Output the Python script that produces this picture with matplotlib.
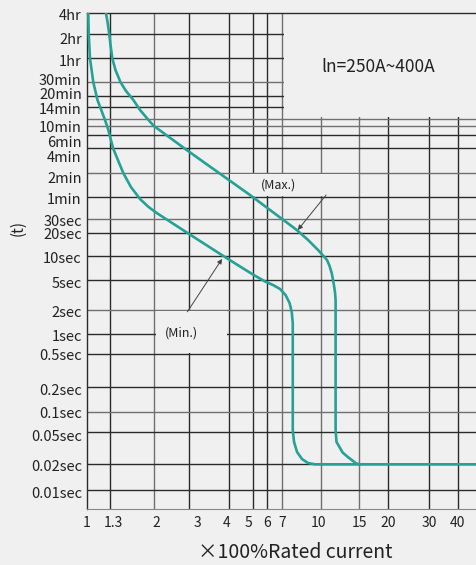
import numpy as np
import matplotlib
matplotlib.use("Agg")
import matplotlib.pyplot as plt
from matplotlib.patches import Rectangle
from matplotlib.transforms import ScaledTranslation

plt.rcParams['font.family'] = ['Noto Sans CJK SC', 'DejaVu Sans']

# --- data ---
x_ticks = [1, 1.3, 2, 3, 4, 5, 6, 7, 10, 15, 20, 30, 40]
x_tick_labels = ['1', '1.3', '2', '3', '4', '5', '6', '7', '10', '15', '20', '30', '40']
x_grid = [1.26, 1.96, 2.77, 4.1, 5.2, 6, 7, 10.3, 15, 20, 30, 40]

y_ticks = [14400, 7200, 3600, 1800, 1200, 840, 680, 600, 360, 240, 120, 60,
           30, 20, 10, 5, 2, 1, 0.5, 0.2, 0.1, 0.05, 0.02, 0.01]
y_tick_labels = ['4hr', '2hr', '1hr', '30min', '20min', '14min', '', '10min', '6min',
                 '4min', '2min', '1min', '30sec', '20sec', '10sec', '5sec', '2sec',
                 '1sec', '0.5sec', '0.2sec', '0.1sec', '0.05sec', '0.02sec', '0.01sec']

# Max curve (x: multiple of rated current, t: seconds)
max_x = [1.21, 1.23, 1.25, 1.267, 1.29, 1.331, 1.40, 1.478, 1.59, 1.699, 1.85, 1.95,
         2.70, 3.19, 5.07, 8.07, 9.03, 9.97, 10.43, 10.9, 11.18, 11.42, 11.57, 11.7,
         11.81, 11.87, 11.87, 11.98, 12.3, 12.72, 13.3, 14.6, 15.1, 48.4]
max_t = [14400, 10640, 7400, 5260, 3600, 2567, 1800, 1383, 1045, 793, 665, 600,
         229, 163, 64, 22, 16.3, 12, 10.3, 8.9, 7.49, 6.1, 5.0, 4.1,
         3.36, 2.7, 0.053, 0.0374, 0.033, 0.0279, 0.025, 0.0204, 0.02, 0.02]

# Min curve
min_x = [1.016, 1.020, 1.033, 1.068, 1.113, 1.20, 1.24, 1.30, 1.44, 1.553, 1.699,
         1.839, 1.992, 2.765, 4.075, 5.173, 5.886, 6.374, 6.833, 7.218, 7.511, 7.675,
         7.754, 7.754, 7.855, 8.09, 8.50, 9.03, 9.68, 15.1]
min_t = [14400, 7400, 3600, 1800, 1045, 665, 478, 240, 118, 80, 56.9,
         44.9, 37.1, 19.6, 9.17, 5.95, 4.78, 4.29, 3.80, 3.16, 2.48, 1.89,
         1.38, 0.053, 0.0374, 0.0283, 0.0232, 0.0207, 0.02, 0.02]

# --- layout of the (non uniform) time axis: height of each time row ---
y_anchor_t = [0.006, 0.01, 0.02, 0.05, 0.1, 0.2, 0.5, 1, 2, 5, 10, 20, 30, 60, 120,
              240, 360, 600, 840, 1200, 1800, 3600, 7200, 14400]
y_anchor_h = [0, 19.3, 45, 77.6, 97, 122, 155.6, 175, 199.3, 229.3, 253.3, 276, 290,
              312, 336.6, 361, 374.3, 383.3, 402.6, 413.6, 427, 451, 475.3, 496.6]
log_t = np.log10(y_anchor_t)

def fwd(t):
    t = np.clip(np.asarray(t, dtype=float), 1e-6, None)
    return np.interp(np.log10(t), log_t, y_anchor_h)

def inv(h):
    return 10 ** np.interp(h, y_anchor_h, log_t)

bg = '#f0f0f0'
dark = '#2b2b2b'
mid = '#707070'
teal = '#23a295'

fig = plt.figure(figsize=(4.77, 5.65), dpi=100, facecolor=bg)
ax = fig.add_axes([86.7 / 477, 55.7 / 565, 390.3 / 477, 496.6 / 565], facecolor=bg)
ax.set_xscale('log')
ax.set_yscale('function', functions=(fwd, inv))
xmax = 48.4
ax.set_xlim(1, xmax)
ax.set_ylim(0.006, 14400)

# grid lines
x_col = [dark, mid, dark, dark, dark, dark, mid, mid, mid, dark, dark, dark]
for xv, c in zip(x_grid, x_col):
    ax.axvline(xv, color=c, lw=1.0, zorder=1)
y_col = [dark, dark, dark, mid, dark, dark, mid, mid, dark, dark, mid, dark,
         mid, dark, dark, dark, mid, dark, dark, dark, mid, dark, dark, dark]
for yv, c in zip(y_ticks[1:], y_col[1:]):
    ax.axhline(yv, color=c, lw=1.0, zorder=1)

# blank cells (text areas)
def blank(x0, x1, t0, t1):
    ax.add_patch(Rectangle((x0 * 1.012, t0 * 1.04), x1 / 1.012 - x0 * 1.012,
                           t1 / 1.04 - t0 * 1.04, facecolor=bg, edgecolor='none',
                           zorder=1.5))

blank(7, xmax * 1.05, 680, 14400 * 1.2)
blank(4.1, 15, 60, 120)
blank(1.96, 4.1, 0.5, 2)

ax.plot(max_x, max_t, color=teal, lw=1.9, zorder=3, solid_joinstyle='round')
ax.plot(min_x, min_t, color=teal, lw=1.9, zorder=3, solid_joinstyle='round')

# labels / annotations
ax.text(0.746, 0.891, 'ln=250A~400A', transform=ax.transAxes, ha='center', va='center',
        fontsize=12.5, color='#222222', zorder=4)
ax.text(6.7, 85, '(Max.)', ha='center', va='center', fontsize=9, color='#222222', zorder=4)
ax.text(2.57, 1.05, '(Min.)', ha='center', va='center', fontsize=9, color='#222222', zorder=4)
arrow = dict(arrowstyle='-|>', color='#444444', lw=0.7, mutation_scale=7,
             shrinkA=0, shrinkB=0)
ax.annotate('', xy=(8.15, 22), xytext=(10.8, 64), arrowprops=arrow, zorder=4)
ax.annotate('', xy=(3.84, 9.2), xytext=(2.72, 1.9), arrowprops=arrow, zorder=4)

# ticks
ax.xaxis.set_minor_locator(matplotlib.ticker.NullLocator())
ax.yaxis.set_minor_locator(matplotlib.ticker.NullLocator())
ax.set_xticks(x_ticks, x_tick_labels)
ax.set_yticks(y_ticks, y_tick_labels)
ax.tick_params(axis='both', length=0, colors='#222222')
ax.tick_params(axis='x', labelsize=10, pad=4.5)
ax.tick_params(axis='y', labelsize=10.5, pad=3.5)

# small vertical nudges of some time labels (pixels, downward)
y_label_dy = [2, 4, 2, -3, -2, 1.5, 0, 0, 6, 8, 5, 1, 1, 0.5, 1, 2, 1.5, 1, 0.5,
              2, 0.5, 4, 1, 2]
for lab, dy in zip(ax.get_yticklabels(), y_label_dy):
    lab.set_transform(lab.get_transform() + ScaledTranslation(0, -dy / 100, fig.dpi_scale_trans))

for side in ['left', 'top']:
    ax.spines[side].set_color(dark)
    ax.spines[side].set_linewidth(1.0)
ax.spines['right'].set_visible(False)
ax.spines['bottom'].set_color('#888888')
ax.spines['bottom'].set_linewidth(0.8)
for s in ax.spines.values():
    s.set_zorder(2.5)

fig.text(18.3 / 477, 1 - 228 / 565, '(t)', rotation=90, ha='center', va='center',
         fontsize=11, color='#222222')
fig.text(294.8 / 477, 1 - 553 / 565, '×100%Rated current', ha='center', va='center',
         fontsize=14, color='#222222')

fig.savefig('out.png', dpi=100, facecolor=bg)
